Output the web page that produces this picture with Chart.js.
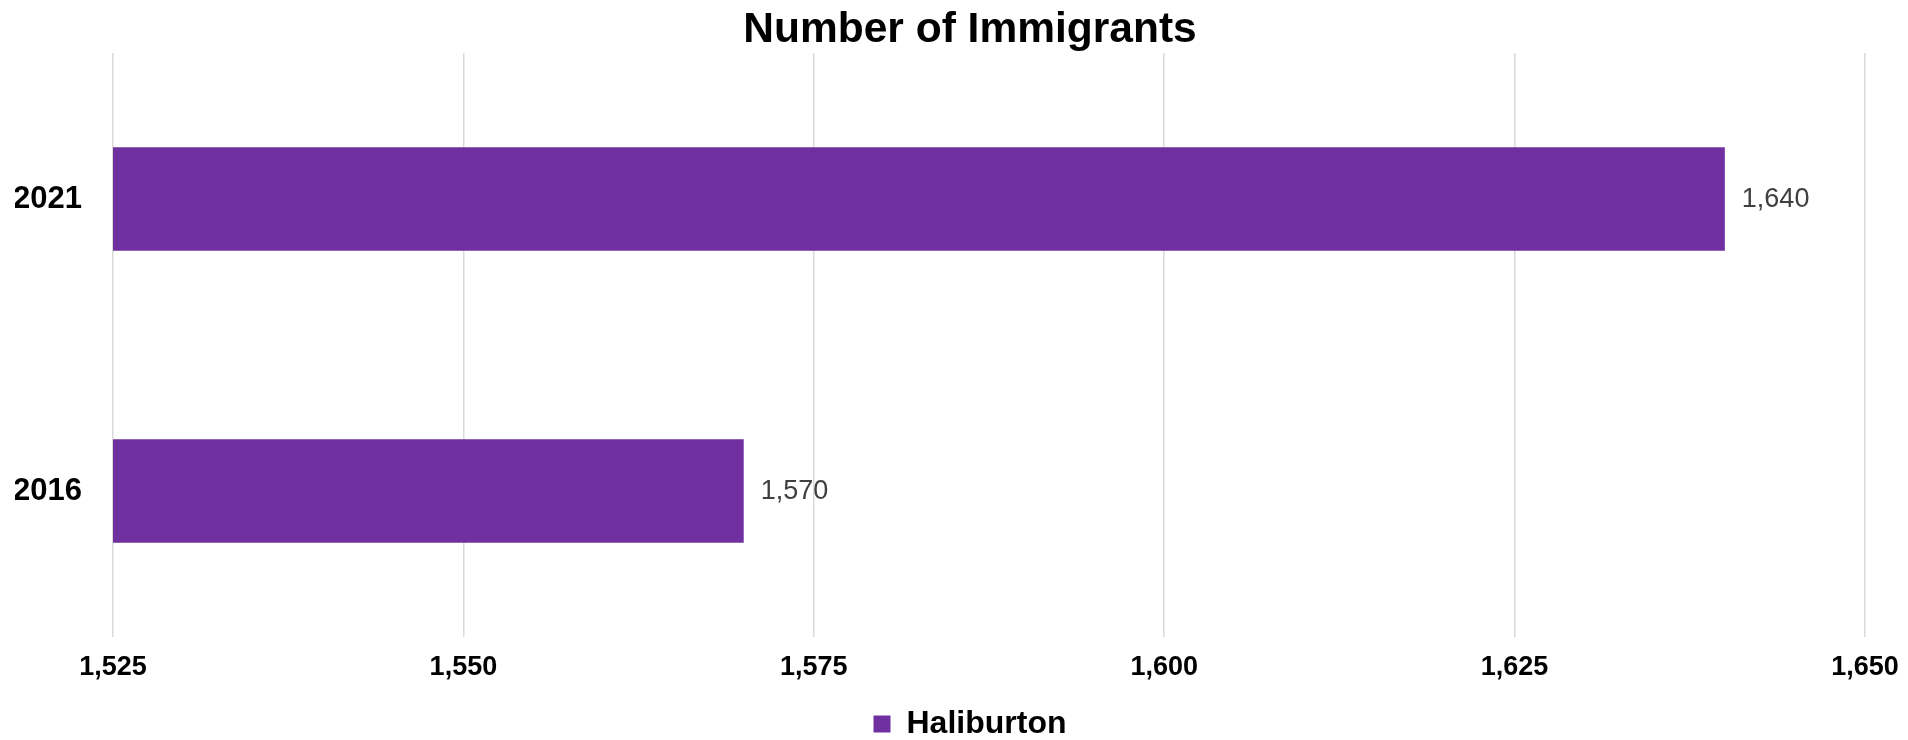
<!DOCTYPE html>
<html>
<head>
<meta charset="utf-8">
<script src="https://cdn.jsdelivr.net/npm/chart.js@4"></script>
<style>
html,body{margin:0;padding:0;background:#fff;}
#wrap{width:1908px;height:740px;position:relative;}
</style>
</head>
<body>
<div id="wrap"><canvas id="c"></canvas></div>
<script>
const categories = ['2021', '2016'];
const seriesName = 'Haliburton';
const seriesValues = [1640, 1570];
const axisMin = 1525;
const axisMax = 1650;
const axisStep = 25;

const FONT = '"Liberation Sans", Arial, sans-serif';
const fmt = v => Number(v).toLocaleString('en-US');

const valueLabels = {
  id: 'valueLabels',
  afterDatasetsDraw(chart) {
    const ctx = chart.ctx;
    ctx.save();
    ctx.font = '27px ' + FONT;
    ctx.fillStyle = '#404040';
    ctx.textAlign = 'left';
    ctx.textBaseline = 'middle';
    chart.data.datasets.forEach((ds, i) => {
      chart.getDatasetMeta(i).data.forEach((bar, j) => {
        ctx.fillText(fmt(ds.data[j]), bar.x + 17, bar.y + 1);
      });
    });
    ctx.restore();
  }
};

// centre title and legend over the same horizontal span as the reference
const centreShift = {
  id: 'centreShift',
  afterLayout(chart) {
    const s = 30;
    [chart.titleBlock, chart.legend].forEach(b => {
      if (b) { b.left += s; b.right += s; }
    });
  }
};

new Chart(document.getElementById('c'), {
  type: 'bar',
  data: {
    labels: categories,
    datasets: [{
      label: seriesName,
      data: seriesValues,
      backgroundColor: '#7030A0',
      borderWidth: 0,
      categoryPercentage: 1.0,
      barPercentage: 0.355
    }]
  },
  options: {
    indexAxis: 'y',
    responsive: true,
    maintainAspectRatio: false,
    devicePixelRatio: 1,
    animation: false,
    layout: { padding: { left: 15, right: 43, top: 0, bottom: -10 } },
    scales: {
      x: {
        min: axisMin,
        max: axisMax,
        ticks: {
          stepSize: axisStep,
          callback: v => fmt(v),
          color: '#000',
          font: { family: FONT, size: 27, weight: 'bold', lineHeight: 1.704 },
          padding: 8,
          maxRotation: 0
        },
        grid: { color: '#d9d9d9', lineWidth: 1.5, drawTicks: false },
        border: { display: false }
      },
      y: {
        afterFit(scale) { scale.width = 98; },
        ticks: {
          color: '#000',
          font: { family: FONT, size: 31, weight: 'bold' },
          padding: 31
        },
        grid: { display: false, drawTicks: false },
        border: { display: false }
      }
    },
    plugins: {
      title: {
        display: true,
        text: 'Number of Immigrants',
        color: '#000',
        font: { family: FONT, size: 42.5, weight: 'bold', lineHeight: 1.0 },
        padding: { top: 9, bottom: 1.5 }
      },
      legend: {
        display: true,
        position: 'bottom',
        labels: {
          color: '#000',
          font: { family: FONT, size: 32, weight: 'bold' },
          boxWidth: 17,
          boxHeight: 17,
          padding: 9
        }
      },
      tooltip: { enabled: false }
    }
  },
  plugins: [valueLabels, centreShift]
});
</script>
</body>
</html>
